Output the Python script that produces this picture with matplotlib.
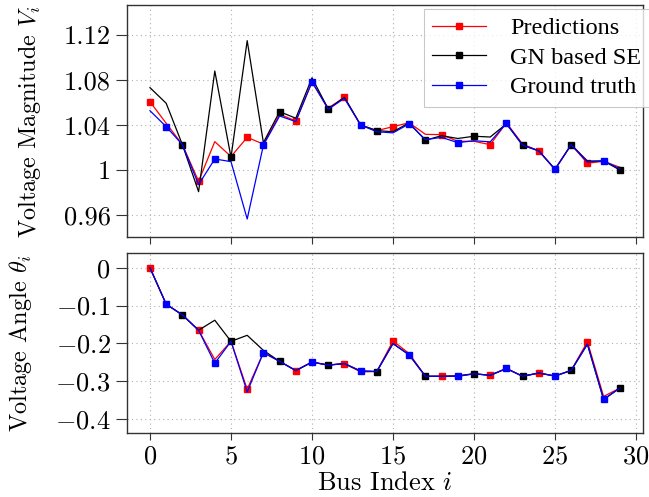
import numpy as np
import matplotlib
matplotlib.use("Agg")
import matplotlib.pyplot as plt

plt.rcParams['font.family'] = 'serif'
plt.rcParams['font.serif'] = ['cmr10', 'DejaVu Serif']
plt.rcParams['mathtext.fontset'] = 'cm'
plt.rcParams['axes.formatter.use_mathtext'] = True

bus = np.arange(30)

# voltage magnitude
vm_pred = [1.0607, 1.0415, 1.0225, 0.9900, 1.0252, 1.0119, 1.0290, 1.0230, 1.0495, 1.0436,
           1.0780, 1.0550, 1.0646, 1.0400, 1.0350, 1.0385, 1.0420, 1.0317, 1.0314, 1.0255,
           1.0255, 1.0225, 1.0420, 1.0230, 1.0170, 1.0006, 1.0225, 1.0060, 1.0077, 1.0024]
vm_gn = [1.0732, 1.0593, 1.0225, 0.9807, 1.0880, 1.0113, 1.1150, 1.0243, 1.0519, 1.0460,
         1.0820, 1.0542, 1.0646, 1.0400, 1.0350, 1.0340, 1.0420, 1.0264, 1.0305, 1.0280,
         1.0300, 1.0293, 1.0410, 1.0220, 1.0170, 1.0006, 1.0225, 1.0080, 1.0080, 1.0000]
vm_true = [1.0527, 1.0385, 1.0225, 0.9870, 1.0098, 1.0074, 0.9564, 1.0220, 1.0480, 1.0430,
           1.0785, 1.0540, 1.0637, 1.0400, 1.0340, 1.0330, 1.0410, 1.0270, 1.0290, 1.0243,
           1.0260, 1.0250, 1.0415, 1.0220, 1.0170, 1.0006, 1.0225, 1.0070, 1.0083, 1.0010]

# voltage angle
va_pred = [0.0, -0.0965, -0.125, -0.1655, -0.243, -0.195, -0.322, -0.225, -0.248, -0.2725,
           -0.250, -0.258, -0.254, -0.276, -0.275, -0.194, -0.2275, -0.2876, -0.2876, -0.286,
           -0.281, -0.285, -0.267, -0.2876, -0.279, -0.287, -0.272, -0.196, -0.341, -0.319]
va_gn = [0.0, -0.0965, -0.125, -0.1655, -0.139, -0.195, -0.179, -0.219, -0.248, -0.2725,
         -0.250, -0.258, -0.254, -0.2735, -0.275, -0.201, -0.231, -0.2876, -0.2876, -0.287,
         -0.281, -0.285, -0.267, -0.2876, -0.279, -0.287, -0.272, -0.2025, -0.349, -0.319]
va_true = [0.0, -0.0965, -0.125, -0.1655, -0.253, -0.195, -0.329, -0.225, -0.248, -0.2725,
           -0.250, -0.258, -0.254, -0.2735, -0.275, -0.201, -0.231, -0.2876, -0.2876, -0.288,
           -0.281, -0.285, -0.267, -0.2876, -0.279, -0.287, -0.272, -0.2025, -0.349, -0.319]

fig = plt.figure(figsize=(6.49, 4.97), dpi=100)
W, H = 649, 497
ax1 = fig.add_axes([126.5 / W, 1 - 237 / H, (643.3 - 126.5) / W, (237 - 5) / H])
ax2 = fig.add_axes([126.5 / W, 1 - 433 / H, (643.3 - 126.5) / W, (433 - 252.7) / H])

series = [('Predictions', 'red', (0, 3)),
          ('GN based SE', 'black', (2, 3)),
          ('Ground truth', 'blue', (1, 3))]

for ax, data in [(ax1, [vm_pred, vm_gn, vm_true]), (ax2, [va_pred, va_gn, va_true])]:
    for (lab, col, mev), y in zip(series, data):
        ax.plot(bus, y, color=col, lw=0.9, marker='s', ms=4, markevery=mev, label=lab)
    ax.set_xlim(-1.45, 30.45)
    ax.set_xticks([0, 5, 10, 15, 20, 25, 30])
    ax.grid(True, color='#b0b0b0', ls=(0, (1, 3)), lw=0.8)
    ax.tick_params(labelsize=19, direction='out', length=5, color='#333333')
    ax.tick_params(axis='y', length=8)
    for s in ax.spines.values():
        s.set_color('#333333')
        s.set_linewidth(1.0)

ax1.set_ylim(0.9404, 1.1467)
ax1.set_yticks([0.96, 1.0, 1.04, 1.08, 1.12])
ax1.set_yticklabels(['0.96', '1', '1.04', '1.08', '1.12'])
ax1.tick_params(axis='x', labelbottom=False)
ax1.set_ylabel(r'Voltage Magnitude $V_i$', fontsize=17.5, labelpad=15)

ax2.set_ylim(-0.438, 0.04)
ax2.set_yticks([0, -0.1, -0.2, -0.3, -0.4])
ax2.set_yticklabels(['$0$', r'$-0.1$', r'$-0.2$', r'$-0.3$', r'$-0.4$'])
ax2.set_ylabel(r'Voltage Angle $\theta_i$', fontsize=17.5, labelpad=15)
ax2.set_xlabel(r'Bus Index $i$', fontsize=19, labelpad=2)

leg = ax1.legend(loc='upper right', bbox_to_anchor=(1.012, 0.983), borderaxespad=0,
                 prop={'family': 'Liberation Serif', 'size': 17.5},
                 fancybox=False, handlelength=2.2, labelspacing=0.3, borderpad=0.35,
                 handletextpad=1.0)
leg.get_frame().set_edgecolor('#bbbbbb')
leg.get_frame().set_linewidth(0.8)

fig.align_ylabels([ax1, ax2])
fig.savefig('out.png', dpi=100)
